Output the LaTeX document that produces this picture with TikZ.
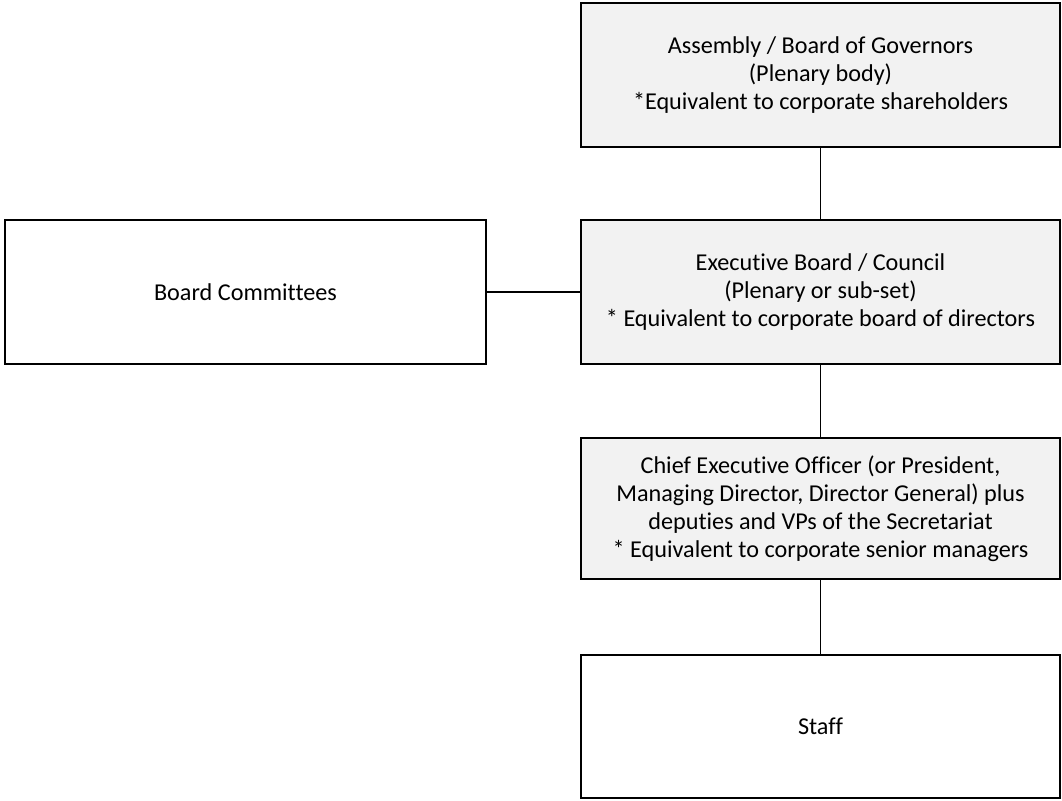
\documentclass[tikz,border=0pt]{standalone}
\usepackage{fontspec}
\setmainfont{Carlito}[Ligatures=NoCommon]
\definecolor{boxgray}{HTML}{F2F2F2}
\tikzset{
  orgbox/.style={draw=black, line width=1.9pt, align=center, inner sep=0pt,
    font=\fontsize{24.2}{28}\selectfont, text=black},
  grayfill/.style={fill=boxgray},
  link/.style={draw=black, line width=1.9pt}
}
\begin{document}
\begin{tikzpicture}[x=1pt,y=1pt]
\useasboundingbox (0,0) rectangle (1062,-800);
\node[orgbox, grayfill, minimum width=479pt, minimum height=144pt] (assembly) at (820.5,-75)
  {Assembly / Board of Governors\\(Plenary body)\\*Equivalent to corporate shareholders};
\node[orgbox, grayfill, minimum width=479pt, minimum height=144pt] (exec) at (820.5,-292)
  {Executive Board / Council\\(Plenary or sub-set)\\* Equivalent to corporate board of directors};
\node[orgbox, minimum width=481pt, minimum height=144pt] (committees) at (245.5,-292)
  {Board Committees};
\node[orgbox, grayfill, minimum width=479pt, minimum height=141pt] (ceo) at (820.5,-508.5)
  {Chief Executive Officer (or President,\\Managing Director, Director General) plus\\deputies and VPs of the Secretariat\\* Equivalent to corporate senior managers};
\node[orgbox, minimum width=479pt, minimum height=143pt] (staff) at (820.5,-726.5)
  {Staff};
\draw[link] (assembly.south) -- (exec.north);
\draw[link] (committees.east) -- (exec.west);
\draw[link] (exec.south) -- (ceo.north);
\draw[link] (ceo.south) -- (staff.north);
\end{tikzpicture}
\end{document}
